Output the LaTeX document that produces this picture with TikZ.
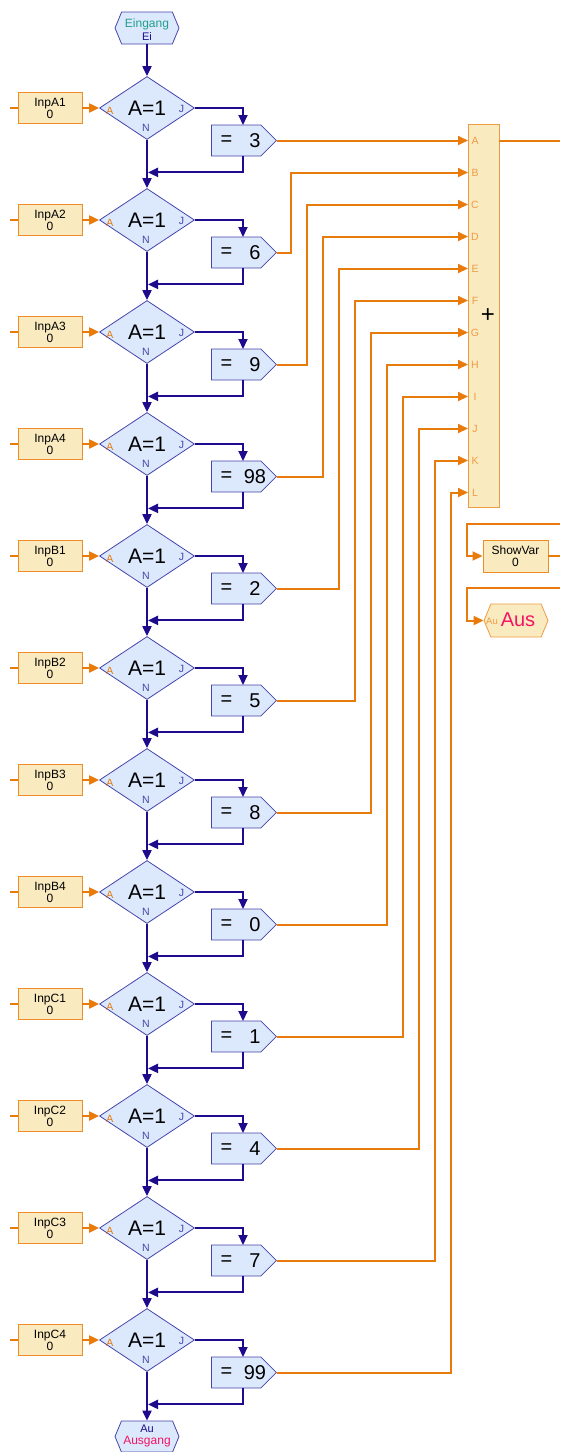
\documentclass[tikz,border=0pt]{standalone}
\usepackage{fontspec}
\setmainfont{Liberation Sans}
\usetikzlibrary{shapes.geometric,shapes.symbols,arrows.meta}
\definecolor{navy}{RGB}{30,10,140}
\definecolor{dfill}{RGB}{220,232,252}
\definecolor{dborder}{RGB}{70,70,170}
\definecolor{org}{RGB}{232,123,12}
\definecolor{ifill}{RGB}{250,234,192}
\definecolor{iborder}{RGB}{238,140,40}
\definecolor{lorg}{RGB}{238,155,70}
\definecolor{teal2}{RGB}{30,160,140}
\definecolor{pink2}{RGB}{245,20,100}
\newcommand{\fsz}[1]{\fontsize{#1}{#1}\selectfont}
\begin{document}
\begin{tikzpicture}[x=1pt,y=-1pt,
  flow/.style={navy,line width=2pt},
  flowarr/.style={flow,-{Triangle[length=10pt,width=9pt]}},
  oline/.style={org,line width=2pt},
  oarr/.style={oline,-{Triangle[length=10pt,width=9pt]}},
  inpbox/.style={draw=iborder,fill=ifill,line width=0.9pt,minimum width=64pt,minimum height=31pt,inner sep=0pt,align=center,font=\fsz{12}},
  cond/.style={diamond,draw=dborder,fill=dfill,line width=0.8pt,minimum width=95pt,minimum height=63pt,inner sep=0pt,font=\fsz{21}},
  eqbox/.style={signal,signal to=east,signal pointer angle=90,draw=dborder,fill=dfill,line width=0.8pt,minimum width=65pt,minimum height=31pt,inner sep=0pt},
  hexbox/.style={signal,signal to=west and east,signal pointer angle=135,draw=dborder,fill=dfill,line width=0.8pt,minimum width=64pt,minimum height=32pt,inner sep=0pt},
  eqtxt/.style={font=\fsz{20},inner sep=0pt},
  small/.style={font=\fsz{10.5},inner sep=0pt},
  addlbl/.style={font=\fsz{10.5},inner sep=0pt,text=lorg},
]
\fill[white] (0,0) rectangle (560,1452);
\useasboundingbox (0,0) rectangle (560,1452);

% start / end terminals
\node[hexbox] (start) at (147,28) {};
\node[inner sep=0pt,font=\fsz{12},text=teal2] (startt) at (147,24.5) {Eingang};
\node[inner sep=0pt,font=\fsz{11},text=navy] (starts) at (147,37) {Ei};

\node[hexbox,minimum height=31pt] (stop) at (147,1436.5) {};
\node[inner sep=0pt,font=\fsz{11},text=navy] (stopt) at (147,1429) {Au};
\node[inner sep=0pt,font=\fsz{12},text=pink2] (stops) at (147,1442) {Ausgang};

% adder
\node[draw=lorg,fill=ifill,line width=0.9pt,minimum width=31pt,minimum height=383pt,inner sep=0pt] (add) at (483.5,315.5) {};
\node[inner sep=0pt,font=\fsz{24}] (plus) at (488,316) {+};

\foreach \nm/\val/\lt [count=\i from 0] in {InpA1/3/A,InpA2/6/B,InpA3/9/C,InpA4/98/D,InpB1/2/E,InpB2/5/F,InpB3/8/G,InpB4/0/H,InpC1/1/I,InpC2/4/J,InpC3/7/K,InpC4/99/L}{
  \pgfmathsetmacro{\yc}{108+112*\i}
  \pgfmathsetmacro{\ya}{140.5+32*\i}
  \coordinate (in\i) at (468,\ya);
  \node[addlbl] (lab\i) at (475,\ya) {\lt};
  \coordinate (src\i) at (10,\yc);
  \node[inpbox] (inp\i) at (50,\yc) {\nm\\0};
  \node[cond] (d\i) at (147,\yc) {A=1};
  \node[small,text=org] (la\i) at (110,\yc+2.5) {A};
  \node[small,text=dborder] (lj\i) at (181.5,\yc+1) {J};
  \node[small,text=dborder] (ln\i) at (146,\yc+19.5) {N};
  \node[eqbox,anchor=west] (e\i) at (211,\yc+32.5) {};
  \node[eqtxt] (eqs\i) at (226.5,\yc+32.5) {=};
  \node[eqtxt] (eqv\i) at (255,\yc+32.5) {\val};
  \draw[oline] (src\i) -- (inp\i.west);
  \draw[oarr] (inp\i.east) -- (d\i.west);
  \draw[flowarr] (d\i.east) -| ([xshift=32pt,yshift=15.5pt]e\i.west);
  \draw[flowarr] ([xshift=32pt,yshift=-15.5pt]e\i.west) |- ([xshift=1pt,yshift=-32.5pt]d\i.south);
}

% routing to adder
\draw[oarr] (e0.east) -- (in0);
\foreach \i in {1,...,11}{
  \pgfmathsetmacro{\xk}{275+16*\i}
  \pgfmathsetmacro{\yo}{140.5+112*\i}
  \draw[oarr] (e\i.east) -- (\xk,\yo) |- (in\i);
}

% main flow
\draw[flowarr] (start.south) -- (d0.north);
\foreach \i [evaluate=\i as \j using int(\i+1)] in {0,...,10}{
  \draw[flowarr] (d\i.south) -- (d\j.north);
}
\draw[flowarr] (d11.south) -- (stop.north);

% adder output and right side
\coordinate (addout) at (560,140.5);
\draw[oline] (add.east |- in0) -- (addout);

\node[inpbox,minimum width=65pt,minimum height=32pt] (sv) at (515.5,556) {ShowVar\\0};
\coordinate (svin) at (560,524);
\coordinate (svout) at (560,556);
\draw[oarr] (svin) -- (467,524) |- (sv.west);
\draw[oline] (sv.east) -- (svout);

\node[hexbox,draw=lorg,fill=ifill,minimum height=33pt] (aus) at (516,620.5) {};
\node[inner sep=0pt,font=\fsz{9.5},text=lorg] (aust) at (492,621) {Au};
\node[inner sep=0pt,font=\fsz{20},text=pink2] (auss) at (518,620) {Aus};
\coordinate (ausin) at (560,588);
\draw[oarr] (ausin) -- (467,588) |- (aus.west);
\end{tikzpicture}
\end{document}
